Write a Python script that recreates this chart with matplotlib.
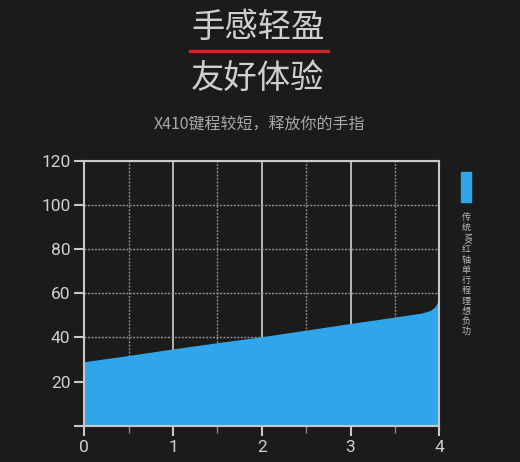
import numpy as np
import matplotlib.pyplot as plt
from matplotlib.ticker import MultipleLocator

# 数据
x_recorrido = [0, 0.5, 1, 1.5, 2, 2.5, 3, 3.5, 3.8, 3.9, 3.95, 3.98, 4.0]
y_fuerza = [29, 31.8, 34.8, 37.6, 40.3, 43.3, 46.3, 49.2, 51.0, 52.2, 53.8, 56.0, 59.5]
y_ticks = [0, 20, 40, 60, 80, 100, 120]
y_labels = ['', '20', '40', '60', '80', '100', '120']
x_ticks = [0, 1, 2, 3, 4]

titulo1 = '手感轻盈'
titulo2 = '友好体验'
subtitulo = 'X410键程较短，释放你的手指'
leyenda = ['传', '统', 'MX', '红', '轴', '单', '行', '程', '理', '想', '负', '功']

BG = '#1b1b1b'
AZUL = '#30a6ea'
CJK = ['Noto Sans CJK SC', 'DejaVu Sans']

fig = plt.figure(figsize=(5.2, 4.62), dpi=100, facecolor=BG)
W, H = 520, 462

def fx(px):
    return px / W

def fy(py):
    return 1 - py / H

# Titulos
fig.text(fx(258), fy(27), titulo1, family=CJK, weight=300, fontsize=24,
         color='#cfcfcf', ha='center', va='center')
fig.text(fx(258), fy(78), titulo2, family=CJK, weight=300, fontsize=24,
         color='#cfcfcf', ha='center', va='center')
fig.add_artist(plt.Line2D([fx(190), fx(328)], [fy(50.5), fy(50.5)],
                          color='#c8282a', lw=2.4, transform=fig.transFigure))
fig.text(fx(259), fy(125), subtitulo, family=CJK, fontsize=11.5,
         color='#a8a8a8', ha='center', va='center')

# Ejes
ax = fig.add_axes([fx(84.3), fy(425.7), fx(439.3 - 84.3), (425.7 - 160.7) / H])
ax.set_facecolor(BG)
ax.fill_between(x_recorrido, 0, y_fuerza, color=AZUL, lw=0, zorder=2)

ax.set_xlim(0, 4)
ax.set_ylim(0, 120)
ax.set_xticks(x_ticks)
ax.set_xticklabels([str(v) for v in x_ticks])
ax.xaxis.set_minor_locator(MultipleLocator(0.5))
ax.set_yticks(y_ticks)
ax.set_yticklabels(y_labels)

for s in ax.spines.values():
    s.set_color('#c8c8c8')
    s.set_linewidth(1.5)
    s.set_zorder(3)

ax.tick_params(axis='both', which='major', colors='#c8c8c8', labelcolor='#d0d0d0',
               length=7, width=1.5, labelsize=12.5, pad=3)
ax.tick_params(axis='x', which='minor', colors='#888888', length=5, width=1)
for lab in ax.get_xticklabels() + ax.get_yticklabels():
    lab.set_family('Roboto')

ax.grid(True, axis='x', which='major', color='#b8b8b8', lw=1.4, ls='-', zorder=1)
ax.grid(True, axis='x', which='minor', color='#8a8a8a', lw=1, ls=(0, (1.5, 1)), zorder=1)
ax.grid(True, axis='y', which='major', color='#909090', lw=1, ls=(0, (1.5, 1)), zorder=1)
ax.set_axisbelow(True)

# Leyenda vertical
fig.add_artist(plt.Rectangle((fx(460.5), fy(201.5)), fx(10.5), (201.5 - 172) / H,
                             color=AZUL, transform=fig.transFigure))
ys = [217, 227.5, 238.5, 249.7, 260, 270, 280, 290.5, 301, 311.5, 321.5, 331]
for tok, py in zip(leyenda, ys):
    fig.text(fx(466), fy(py), tok, family=CJK, fontsize=6.5, color='#b8b8b8',
             ha='center', va='center', rotation=-90 if tok == 'MX' else 0)

fig.savefig('out.png', dpi=100, facecolor=BG)
